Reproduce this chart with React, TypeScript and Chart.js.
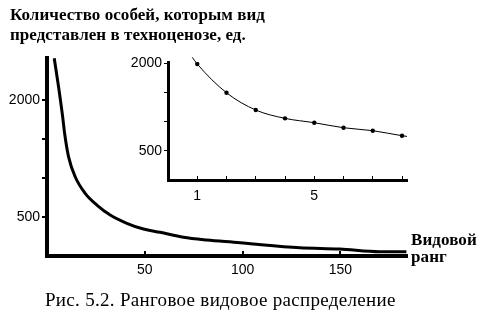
import React, { useEffect, useRef } from "react";
import { Chart, registerables } from "chart.js";

Chart.register(...registerables);

// ---- data ----
const mainRank = [3.7, 5.9, 8.0, 9.0, 11.0, 14.4, 19.5, 25.5, 32.3, 40.8, 49.3, 57.8, 69.7, 81.6, 98.6, 107.1, 129.2, 149.6, 170, 183.7];
const mainCount = [2536, 2172, 1787, 1574, 1274, 1017, 804, 654, 526, 420, 346, 304, 240, 205, 171, 150, 106, 90, 55, 55];
const mainXTicks = [50, 100, 150];
const mainYTicks = [500, 1000, 1500, 2000];
const mainYLabels = [500, 2000];

const insetRank = [1, 2, 3, 4, 5, 6, 7, 8];
const insetCount = [1990, 1497, 1201, 1058, 983, 897, 846, 760];
const insetCurveRank = [0.83, 1, 2, 3, 4, 5, 6, 7, 8, 8.17];
const insetCurveCount = [2105, 1990, 1497, 1201, 1058, 983, 897, 846, 760, 748];
const insetXTicks = [1, 2, 3, 4, 5, 6, 7, 8];
const insetXLabels = [1, 5];
const insetYTicks = [500, 1000, 1500, 2000];
const insetYLabels = [500, 2000];

const titleLines = ["Количество особей, которым вид", "представлен в техноценозе, ед."];
const axisXLabel = ["Видовой", "ранг"];
const caption = "Рис. 5.2. Ранговое видовое распределение";

const tickFont = { family: "'Liberation Sans', Arial, sans-serif", size: 14 };

function pts(xs: number[], ys: number[]) {
  return xs.map((x, i) => ({ x, y: ys[i] }));
}

const SERIF = "'Liberation Serif'";

export default function App() {
  const mainRef = useRef<HTMLCanvasElement>(null);
  const insetRef = useRef<HTMLCanvasElement>(null);

  useEffect(() => {
    document.body.style.margin = "0";
    const main = new Chart(mainRef.current!, {
      type: "line",
      data: {
        datasets: [
          {
            data: pts(mainRank, mainCount),
            borderColor: "#000",
            borderWidth: 3,
            pointRadius: 0,
            cubicInterpolationMode: "monotone",
            fill: false,
          },
        ],
      },
      options: {
        animation: false,
        responsive: false,
        events: [],
        layout: { padding: { left: 0, top: 58, right: 88, bottom: 0 } },
        plugins: { legend: { display: false }, tooltip: { enabled: false }, title: { display: false } },
        scales: {
          x: {
            type: "linear",
            min: 0,
            max: 184,
            afterFit: (s: any) => { s.height = 71; },
            afterBuildTicks: (s: any) => { s.ticks = mainXTicks.map((v) => ({ value: v })); },
            border: { display: true, color: "#000", width: 4 },
            grid: { display: true, drawOnChartArea: false, drawTicks: true, tickLength: -5, color: "#000", lineWidth: 2 },
            ticks: { autoSkip: false, maxRotation: 0, color: "#000", font: tickFont, padding: 11 },
          },
          y: {
            type: "linear",
            min: 0,
            max: 2540,
            afterFit: (s: any) => { s.width = 47; },
            afterBuildTicks: (s: any) => { s.ticks = mainYTicks.map((v) => ({ value: v })); },
            border: { display: true, color: "#000", width: 4 },
            grid: { display: true, drawOnChartArea: false, drawTicks: true, tickLength: 5, color: "#000", lineWidth: 2 },
            ticks: {
              autoSkip: false,
              color: "#000",
              font: tickFont,
              padding: 2,
              callback: (v: any) => (mainYLabels.includes(Number(v)) ? String(v) : ""),
            },
          },
        },
      },
    });

    const inset = new Chart(insetRef.current!, {
      type: "line",
      data: {
        datasets: [
          {
            data: pts(insetCurveRank, insetCurveCount),
            borderColor: "#000",
            borderWidth: 1,
            pointRadius: 0,
            cubicInterpolationMode: "monotone",
            fill: false,
            clip: false as any,
          },
          {
            data: pts(insetRank, insetCount),
            showLine: false,
            pointRadius: 2.2,
            pointBackgroundColor: "#000",
            pointBorderColor: "#000",
            pointBorderWidth: 0,
          },
        ],
      },
      options: {
        animation: false,
        responsive: false,
        events: [],
        layout: { padding: { left: 0, top: 22, right: 13, bottom: 0 } },
        plugins: { legend: { display: false }, tooltip: { enabled: false }, title: { display: false } },
        scales: {
          x: {
            type: "linear",
            min: 0,
            max: 8.17,
            afterFit: (s: any) => { s.height = 30; },
            afterBuildTicks: (s: any) => { s.ticks = insetXTicks.map((v) => ({ value: v })); },
            border: { display: true, color: "#000", width: 3 },
            grid: { display: true, drawOnChartArea: false, drawTicks: true, tickLength: -4, color: "#000", lineWidth: 1 },
            ticks: {
              autoSkip: false,
              maxRotation: 0,
              color: "#000",
              font: tickFont,
              padding: 12,
              callback: (v: any) => (insetXLabels.includes(Number(v)) ? String(v) : ""),
            },
          },
          y: {
            type: "linear",
            min: 0,
            max: 2025,
            afterFit: (s: any) => { s.width = 48; },
            afterBuildTicks: (s: any) => { s.ticks = insetYTicks.map((v) => ({ value: v })); },
            border: { display: true, color: "#000", width: 3 },
            grid: { display: true, drawOnChartArea: false, drawTicks: true, tickLength: 4, color: "#000", lineWidth: 1 },
            ticks: {
              autoSkip: false,
              color: "#000",
              font: tickFont,
              padding: 2,
              callback: (v: any) => (insetYLabels.includes(Number(v)) ? String(v) : ""),
            },
          },
        },
      },
    });

    return () => {
      main.destroy();
      inset.destroy();
    };
  }, []);

  return (
    <div style={{ position: "fixed", left: 0, top: 0, width: 495, height: 327, background: "#fff", overflow: "hidden" }}>
      <canvas ref={mainRef} width={495} height={327} style={{ position: "absolute", left: 0, top: 0 }} />
      <canvas ref={insetRef} width={300} height={170} style={{ position: "absolute", left: 120, top: 40 }} />
      <div style={{ position: "absolute", left: 10, top: 5, fontFamily: SERIF, fontWeight: 700, fontSize: 17, letterSpacing: "0.05px", lineHeight: "20px", color: "#000", whiteSpace: "nowrap" }}>
        <div>{titleLines[0]}</div>
        <div>{titleLines[1]}</div>
      </div>
      <div style={{ position: "absolute", left: 411, top: 231, fontFamily: SERIF, fontWeight: 700, fontSize: 17, letterSpacing: "0.1px", lineHeight: "17px", color: "#000", whiteSpace: "nowrap" }}>
        <div>{axisXLabel[0]}</div>
        <div>{axisXLabel[1]}</div>
      </div>
      <div style={{ position: "absolute", left: 45, top: 290, fontFamily: SERIF, fontSize: 19, letterSpacing: "0.3px", lineHeight: "20px", color: "#000", whiteSpace: "nowrap" }}>
        {caption}
      </div>
    </div>
  );
}
